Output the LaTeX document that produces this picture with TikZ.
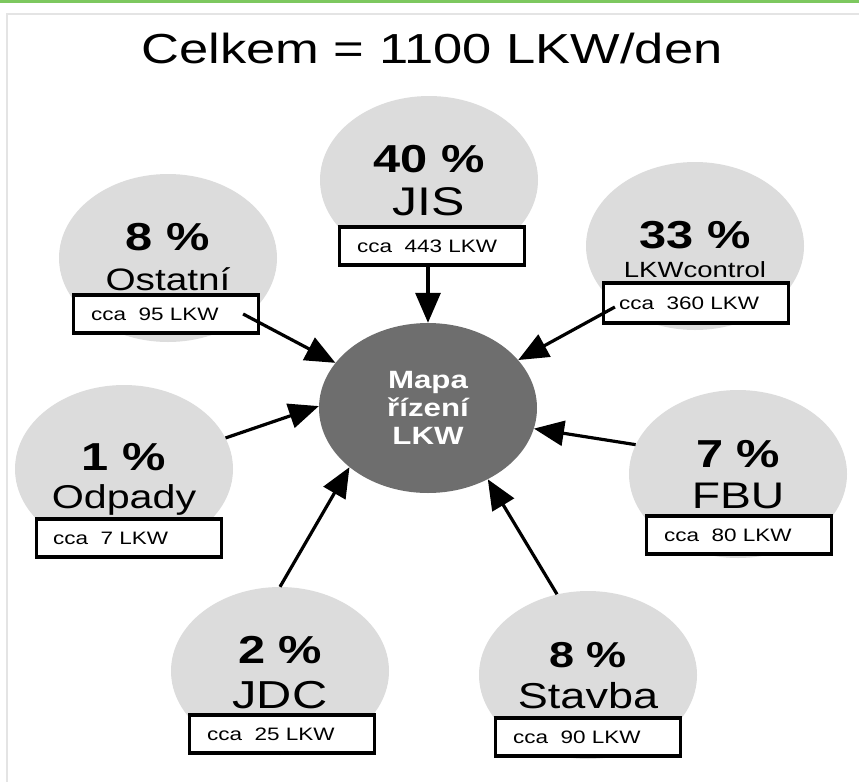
\documentclass[tikz,border=0pt]{standalone}
\usepackage{fontspec}
\setmainfont{Liberation Sans}[FakeStretch=1.25]
\usetikzlibrary{shapes.geometric,arrows.meta}

\definecolor{zonegray}{RGB}{220,220,220}
\definecolor{mapgray}{RGB}{110,110,110}
\definecolor{bargreen}{RGB}{125,200,95}
\definecolor{framegray}{RGB}{228,228,228}

\begin{document}
\begin{tikzpicture}[x=1pt, y=-1pt,
        zone/.style={ellipse, fill=zonegray, minimum width=218pt, minimum height=168pt, inner sep=0pt},
        cbox/.style={draw, line width=3.2pt, fill=white, minimum width=185pt, minimum height=38pt, inner sep=0pt},
        pct/.style={anchor=base, inner sep=0pt, font=\fontsize{39}{44}\selectfont\bfseries},
        lbl/.style={anchor=base, inner sep=0pt},
        cca/.style={anchor=base west, inner sep=0pt, font=\fontsize{18}{20}\selectfont},
        feed/.style={-{Triangle[length=30pt,width=25pt]}, line width=3.2pt}]
        % Page size and frame
        \useasboundingbox (0,0) rectangle (859,782);
        \fill[bargreen] (0,0) rectangle (859,3);
        \draw[framegray, line width=1.5pt] (859,14) -- (7,14) -- (7,782);

        % Title
        \node[anchor=base, inner sep=0pt, font=\fontsize{42}{46}\selectfont] (title) at (432,63) {Celkem = 1100 LKW/den};

        % Central circle
        \node[ellipse, fill=mapgray, minimum width=218pt, minimum height=170pt, inner sep=0pt] (map) at (428,408) {};
        \node[align=center, text=white, font=\fontsize{25}{28}\selectfont\bfseries] (maptext) at (map) {Mapa\\řízení\\LKW};

        % Source circles
        \node[zone] (jis) at (429,180) {};
        \node[zone] (ost) at (168,258) {};
        \node[zone] (lkw) at (695,246) {};
        \node[zone] (odp) at (124,469) {};
        \node[zone] (fbu) at (738,474) {};
        \node[zone] (jdc) at (280,671) {};
        \node[zone] (stav) at (588,675) {};

        % Count boxes
        \node[cbox] (jisbox) at (432,246) {};
        \node[cbox] (ostbox) at (166,314) {};
        \node[cbox, minimum height=40pt] (lkwbox) at (696,303) {};
        \node[cbox] (odpbox) at (129,538) {};
        \node[cbox] (fbubox) at (739,535) {};
        \node[cbox] (jdcbox) at (282,734) {};
        \node[cbox] (stavbox) at (588,737) {};

        % Percentages and names
        \node[pct] (jisp) at (429,172) {40 \%};
        \node[lbl, font=\fontsize{40}{44}\selectfont] (jisn) at (429,215) {JIS};
        \node[pct] (ostp) at (168,250) {8 \%};
        \node[lbl, font=\fontsize{31}{34}\selectfont] (ostn) at (168,290) {Ostatní};
        \node[pct] (lkwp) at (695,248) {33 \%};
        \node[lbl, font=\fontsize{22}{24}\selectfont] (lkwn) at (695,277) {LKWcontrol};
        \node[pct] (odpp) at (124,470) {1 \%};
        \node[lbl, font=\fontsize{33}{36}\selectfont] (odpn) at (124,508) {Odpady};
        \node[pct] (fbup) at (738,467) {7 \%};
        \node[lbl, font=\fontsize{37}{40}\selectfont] (fbun) at (738,508) {FBU};
        \node[pct] (jdcp) at (280,663) {2 \%};
        \node[lbl, font=\fontsize{39}{42}\selectfont] (jdcn) at (280,708) {JDC};
        \node[pct, font=\fontsize{36}{40}\selectfont\bfseries] (stavp) at (588,667) {8 \%};
        \node[lbl, font=\fontsize{36}{40}\selectfont] (stavn) at (588,708) {Stavba};

        % Box texts
        \node[cca] (jist) at ([xshift=19pt, yshift=-6.5pt]jisbox.west) {cca\ \ 443 LKW};
        \node[cca] (ostt) at ([xshift=19pt, yshift=-6.5pt]ostbox.west) {cca\ \ 95 LKW};
        \node[cca] (lkwt) at ([xshift=17pt, yshift=-6.5pt]lkwbox.west) {cca\ \ 360 LKW};
        \node[cca] (odpt) at ([xshift=18pt, yshift=-6.5pt]odpbox.west) {cca\ \ 7 LKW};
        \node[cca] (fbut) at ([xshift=19pt, yshift=-6.5pt]fbubox.west) {cca\ \ 80 LKW};
        \node[cca] (jdct) at ([xshift=19pt, yshift=-6.5pt]jdcbox.west) {cca\ \ 25 LKW};
        \node[cca] (stavt) at ([xshift=19pt, yshift=-6.5pt]stavbox.west) {cca\ \ 90 LKW};

        % Arrows into the map
        \draw[feed] (jisbox.south -| map.north) -- (map.north);
        \draw[feed] ([xshift=-17pt]ostbox.east) -- (map.154);
        \draw[feed] ([xshift=13pt, yshift=-4pt]lkwbox.west) -- (map.28);
        \draw[feed] (odp.17) -- (map.179);
        \draw[feed] (fbu.164) -- (map.-11);
        \draw[feed] (jdc.90) -- (map.217);
        \draw[feed] (stav.111) -- (map.-50);
    \end{tikzpicture}
\end{document}
